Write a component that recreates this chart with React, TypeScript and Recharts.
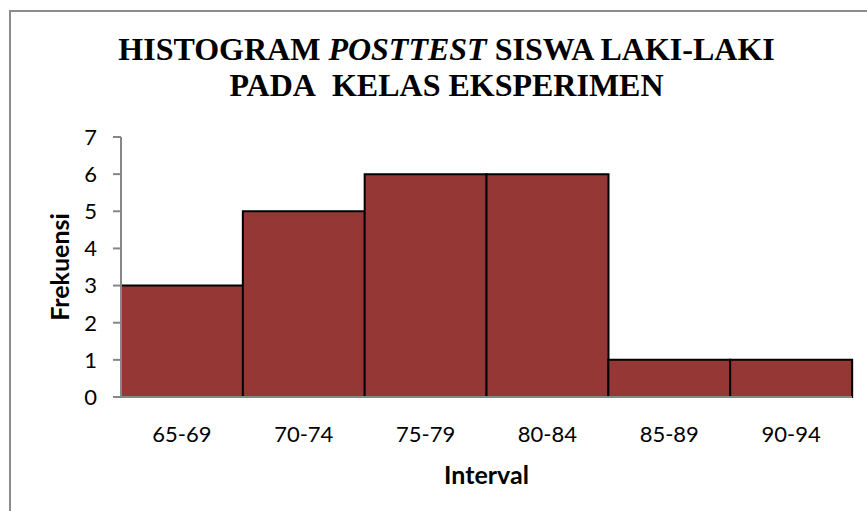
import { Bar, BarChart, XAxis, YAxis } from "recharts";

const intervals = ["65-69", "70-74", "75-79", "80-84", "85-89", "90-94"];
const frekuensi = [3, 5, 6, 6, 1, 1];
const yTicks = [0, 1, 2, 3, 4, 5, 6, 7];

const data = intervals.map((interval, i) => ({ interval, frekuensi: frekuensi[i] }));

const sans = "Lato, 'Open Sans', sans-serif";
const axisGrey = "#868686";

export default function App() {
  return (
    <div style={{ position: "fixed", left: 0, top: 0, width: 867, height: 511, background: "#fff", overflow: "hidden" }}>
      <div
        style={{
          position: "absolute",
          left: 9,
          top: 10,
          width: 900,
          height: 600,
          border: "2px solid #8c8c8c",
        }}
      />
      <div
        style={{
          position: "absolute",
          left: 0,
          top: 31,
          width: 893,
          textAlign: "center",
          fontFamily: "'Liberation Serif', 'Times New Roman', serif",
          fontWeight: "bold",
          fontSize: 32,
          lineHeight: "36px",
          color: "#000",
        }}
      >
        <div>
          HISTOGRAM <i>POSTTEST</i> SISWA LAKI-LAKI
        </div>
        <div>PADA&nbsp; KELAS EKSPERIMEN</div>
      </div>
      <div style={{ position: "absolute", left: 0, top: 0 }}>
        <BarChart
          width={867}
          height={511}
          data={data}
          barCategoryGap={0}
          margin={{ top: 137, right: 15, bottom: 0, left: 0 }}
        >
          <XAxis
            dataKey="interval"
            height={114}
            stroke={axisGrey}
            strokeWidth={2}
            tickLine={false}
            tick={{ fill: "#000", fontFamily: sans, fontSize: 22 }}
            tickMargin={23}
            label={{
              value: "Interval",
              position: "insideBottom",
              offset: 27,
              fill: "#000",
              fontFamily: sans,
              fontWeight: "bold",
              fontSize: 25,
            }}
          />
          <YAxis
            width={121}
            domain={[0, 7]}
            ticks={yTicks}
            interval={0}
            stroke={axisGrey}
            strokeWidth={2}
            tickSize={8}
            tickMargin={16}
            tick={{ fill: "#000", fontFamily: sans, fontSize: 22 }}
            label={{
              value: "Frekuensi",
              angle: -90,
              position: "insideLeft",
              offset: 60,
              fill: "#000",
              fontFamily: sans,
              fontWeight: "bold",
              fontSize: 25,
              style: { textAnchor: "middle" },
            }}
          />
          <Bar dataKey="frekuensi" fill="#953735" stroke="#000" strokeWidth={2} isAnimationActive={false} />
        </BarChart>
      </div>
    </div>
  );
}
